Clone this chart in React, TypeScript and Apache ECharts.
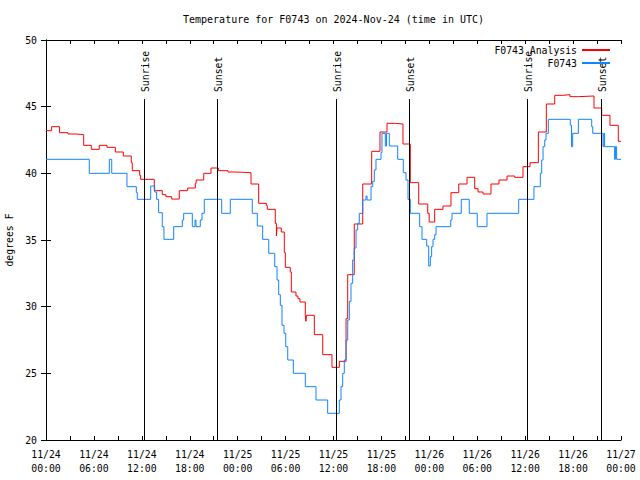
import React, { useEffect, useRef } from 'react';
import * as echarts from 'echarts';

// Hours since 2024-11-24 00:00 UTC at which the value changes (step plot)
const analysisHours = [
  0, 0.7, 1.7, 2.75, 3.8, 4.72, 5.67, 6.67, 7.64, 8.68, 9.68, 10.68, 10.8, 11.73, 11.85,
  13.56, 14.56, 15.02, 15.74, 16.69, 17.74, 18.7, 18.8, 19.75, 20.66, 21.58, 22.79, 23.79,
  25.67, 26.63, 27.59, 27.71, 28.71, 28.85, 28.92, 29.46, 29.84, 29.97, 30.59, 30.72, 31.3,
  31.55, 31.8, 32.47, 32.55, 32.62, 33.6, 34.65, 35.81, 36.73, 37.57, 37.78, 38.6, 39.66,
  40.78, 41.82, 42.7, 43.74, 44.7, 45.62, 46.67, 47.8, 47.98, 48.67, 49.71, 50.71, 51.68,
  52.72, 53.68, 54.1, 54.72, 55.72, 56.72, 57.73, 58.69, 59.73, 60.61, 61.65, 62.65, 63.7,
  64.7, 65.61, 66.66, 68.62, 69.58, 70.62, 71.66, 72,
];
const analysisTemps = [
  43.2, 43.5, 43.05, 42.95, 42.9, 42.1, 41.8, 42.1, 41.95, 41.6, 41.3, 40.8, 40.2, 39.85, 39.55,
  38.7, 38.4, 38.25, 38.07, 38.7, 38.9, 39.25, 39.5, 40.0, 40.4, 40.2, 40.1, 40.05,
  39.2, 37.75, 37.6, 37.3, 36.25, 35.3, 35.9, 35.6, 34.05, 32.95, 32.6, 31.1, 30.8,
  30.6, 30.35, 29.35, 28.9, 29.35, 27.9, 26.4, 25.45, 25.9, 29.1, 32.4, 36.2, 39.2,
  41.65, 43.1, 43.75, 43.7, 42.2, 39.3, 37.7, 37.0, 36.35, 37.3, 37.55, 38.55, 39.2,
  39.7, 38.85, 38.6, 38.45, 39.2, 39.5, 39.8, 39.7, 40.5, 40.8, 43.1, 45.2, 45.85,
  45.9, 45.75, 45.8, 44.9, 44.35, 43.6, 42.4, 42.4,
];

const obsHours = [
  0, 5.42, 7.93, 8.23, 10.14, 11.31, 11.43, 13.11, 13.61, 13.85, 14.1, 14.56, 14.77, 15.99,
  17.07, 17.24, 18.32, 18.66, 18.78, 19.32, 19.53, 19.82, 22.0, 23.08, 25.83, 26.46, 27.13,
  27.89, 28.64, 28.93, 29.14, 29.34, 29.55, 29.8, 30.02, 30.27, 30.97, 32.47, 33.81, 35.27,
  36.73, 36.94, 37.15, 37.35, 37.57, 37.78, 37.98, 38.19, 38.4, 38.6, 38.82, 39.03, 39.23,
  39.66, 40.07, 40.2, 40.7, 40.91, 41.11, 41.32, 41.95, 42.07, 42.49, 42.64, 42.99, 44.04,
  44.74, 45.08, 45.33, 45.62, 46.79, 47.08, 47.67, 47.92, 48.12, 48.29, 48.46, 48.67, 48.84,
  50.68, 50.84, 52.0, 53.0, 54.0, 55.22, 59.19, 61.1, 61.9, 62.07, 62.24, 62.45, 62.61, 62.9,
  65.65, 65.8, 65.95, 66.66, 68.33, 68.46, 69.75, 69.85, 69.95, 71.2, 71.3, 71.45, 72,
];
const obsTemps = [
  41.05, 40.0, 41.05, 40.0, 39.0, 38.55, 38.05, 39.05, 38.6, 38.05, 37.05, 36.0, 35.05, 36.0,
  36.5, 37.0, 36.0, 36.5, 36.0, 36.5, 37.0, 38.05, 37.0, 38.05, 37.0, 36.05, 35.05,
  34.0, 33.0, 32.0, 30.9, 30.1, 28.6, 28.0, 27.0, 26.0, 25.0, 24.0, 23.0, 22.0,
  23.0, 24.0, 25.0, 26.0, 27.5, 29.0, 30.4, 31.75, 33.5, 34.4, 35.75, 36.25, 37.0,
  38.0, 38.3, 38.0, 39.0, 39.4, 40.25, 41.05, 41.55, 43.0, 42.05, 43.0, 42.05, 41.05,
  40.05, 39.5, 38.05, 37.0, 36.0, 35.05, 34.55, 33.05, 33.75, 34.5, 35.05, 35.4, 36.0,
  36.5, 37.0, 38.05, 37.0, 36.0, 37.0, 38.05, 39.0, 40.0, 41.0, 42.0, 42.5, 43.0, 44.05,
  43.6, 42.0, 43.0, 44.05, 43.5, 43.0, 42.0, 43.0, 42.0, 41.05, 42.0, 41.05, 41.05,
];

const sunEvents = ['Sunrise', 'Sunset', 'Sunrise', 'Sunset', 'Sunrise', 'Sunset'];
const sunHours = [12.28, 21.45, 36.33, 45.48, 60.27, 69.52];
const sunLineBottom = 20;
const sunLineTop = 45.57;

const xTickLabels = [
  '11/24\n00:00', '11/24\n06:00', '11/24\n12:00', '11/24\n18:00',
  '11/25\n00:00', '11/25\n06:00', '11/25\n12:00', '11/25\n18:00',
  '11/26\n00:00', '11/26\n06:00', '11/26\n12:00', '11/26\n18:00',
  '11/27\n00:00',
];
const yMin = 20;
const yMax = 50;
const yStep = 5;

const seriesNames = ['F0743 Analysis', 'F0743'];
const titleText = 'Temperature for F0743 on 2024-Nov-24 (time in UTC)';
const yAxisTitle = 'degrees F';

const FONT = 'DejaVu Sans Mono';
const FS = 9.8;

export default function App() {
  const ref = useRef<HTMLDivElement>(null);
  useEffect(() => {
    if (!ref.current) return;
    const chart = echarts.init(ref.current, null, { renderer: 'svg' });
    const axisLine = { show: true, lineStyle: { color: '#000', width: 1 } };
    const tick = (len: number) => ({ show: true, inside: true, length: len, lineStyle: { color: '#000', width: 1 } });
    const option: any = {
      animation: false,
      backgroundColor: '#fff',
      title: {
        text: titleText,
        left: 183,
        top: 14,
        padding: 0,
        textStyle: { fontFamily: FONT, fontSize: 10, fontWeight: 'normal', color: '#000' },
      },
      legend: {
        data: seriesNames,
        orient: 'vertical',
        align: 'right',
        right: 29,
        top: 45,
        padding: 0,
        itemWidth: 28,
        itemHeight: 2,
        itemGap: 3,
        textStyle: { fontFamily: FONT, fontSize: FS, color: '#000' },
      },
      grid: { left: 46, right: 19, top: 40, bottom: 40, containLabel: false, outerBoundsMode: 'none' },
      xAxis: [
        {
          type: 'value', min: 0, max: 72, interval: 3, position: 'bottom',
          axisLine, axisTick: tick(4), splitLine: { show: false },
          axisLabel: {
            formatter: (v: number) => (v % 6 === 0 ? xTickLabels[v / 6] : ''),
            color: '#000', fontFamily: FONT, fontSize: FS, lineHeight: 14, margin: 7,
            showMinLabel: true, showMaxLabel: true,
          },
        },
        {
          type: 'value', min: 0, max: 72, interval: 3, position: 'top',
          axisLine, axisTick: tick(4), splitLine: { show: false }, axisLabel: { show: false },
        },
      ],
      yAxis: [
        {
          type: 'value', min: yMin, max: yMax, interval: yStep, position: 'left',
          axisLine, axisTick: tick(5), splitLine: { show: false },
          axisLabel: { color: '#000', fontFamily: FONT, fontSize: FS, margin: 9 },
          name: yAxisTitle, nameLocation: 'middle', nameGap: 30, nameRotate: 90,
          nameTextStyle: { fontFamily: FONT, fontSize: FS, color: '#000' },
        },
        {
          type: 'value', min: yMin, max: yMax, interval: yStep, position: 'right',
          axisLine, axisTick: tick(5), splitLine: { show: false }, axisLabel: { show: false },
        },
      ],
      series: [
        {
          name: seriesNames[0],
          type: 'line',
          step: 'end',
          symbol: 'none',
          data: analysisHours.map((h, i) => [h, analysisTemps[i]]),
          lineStyle: { color: '#ff0000', width: 1 },
          itemStyle: { color: '#ff0000' },
          markLine: {
            silent: true,
            symbol: 'none',
            label: { show: false },
            lineStyle: { color: '#000', width: 1, type: 'solid' },
            data: sunHours.map((h) => [{ coord: [h, sunLineBottom] }, { coord: [h, sunLineTop] }]),
          },
        },
        {
          name: seriesNames[1],
          type: 'line',
          step: 'end',
          symbol: 'none',
          data: obsHours.map((h, i) => [h, obsTemps[i]]),
          lineStyle: { color: '#1085ff', width: 1 },
          itemStyle: { color: '#1085ff' },
        },
      ],
    };
    chart.setOption(option);
    const graphics = sunHours.map((h, i) => {
      const p = chart.convertToPixel({ seriesIndex: 0 }, [h, sunLineTop]) as number[];
      return {
        type: 'text',
        x: p[0] + 1,
        y: p[1] - 7,
        rotation: Math.PI / 2,
        style: {
          text: sunEvents[i],
          fontFamily: FONT,
          fontSize: FS,
          fill: '#000',
          align: 'left',
          verticalAlign: 'middle',
        },
      };
    });
    chart.setOption({ graphic: graphics });
    return () => chart.dispose();
  }, []);
  return <div ref={ref} style={{ position: 'fixed', left: 0, top: 0, width: 640, height: 480 }} />;
}
